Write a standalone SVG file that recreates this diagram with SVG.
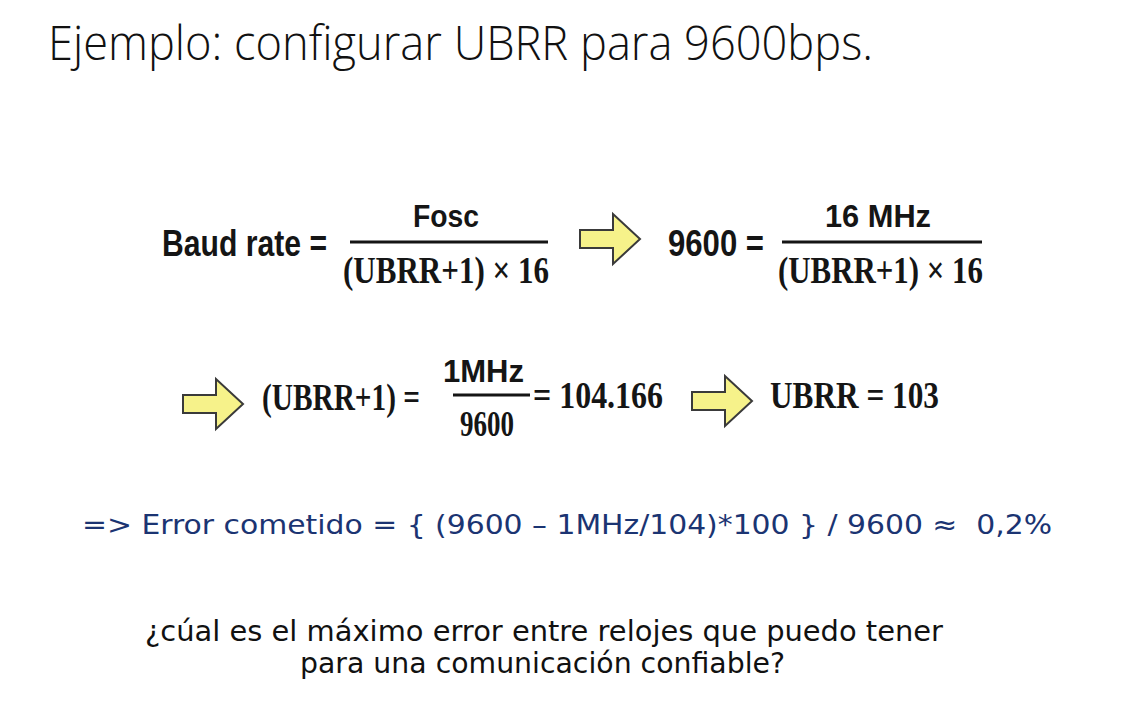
<svg xmlns="http://www.w3.org/2000/svg" width="1137" height="702" viewBox="0 0 1137 702">
<style>
.title{font-family:"Open Sans","Noto Sans","Liberation Sans",sans-serif;font-size:47px;font-weight:300;fill:#111}
.sb{font-family:"Liberation Sans",Arial,sans-serif;font-weight:bold;fill:#151515}
.tb{font-family:"Liberation Serif","Times New Roman",serif;font-weight:bold;fill:#151515}
.blue{font-family:"DejaVu Sans",Verdana,sans-serif;font-size:27px;fill:#1b3472;white-space:pre}
.q{font-family:"DejaVu Sans",Tahoma,sans-serif;font-size:28px;fill:#111}
.frac{stroke:#151515;stroke-width:3}
.arr{fill:#f6f28a;stroke:#3a3a3a;stroke-width:2;stroke-linejoin:miter}
</style>
<defs>
<path id="arrow" d="M0,-9 H33 V-25 L60,0 L33,25 V9 H0 Z"/>
</defs>
<rect width="1137" height="702" fill="#ffffff"/>
<text class="title" x="48" y="60" textLength="825" lengthAdjust="spacingAndGlyphs">Ejemplo: configurar UBRR para 9600bps.</text>

<g id="connectors">
<use href="#arrow" class="arr" transform="translate(580,239)"/>
<use href="#arrow" class="arr" transform="translate(183,404)"/>
<use href="#arrow" class="arr" transform="translate(692,401)"/>
</g>

<g id="eq1">
<text class="sb" x="162" y="256" font-size="36" textLength="165" lengthAdjust="spacingAndGlyphs">Baud rate =</text>
<text class="sb" x="413" y="227" font-size="32" textLength="66" lengthAdjust="spacingAndGlyphs">Fosc</text>
<line class="frac" x1="350" y1="242" x2="548" y2="242"/>
<text class="tb" x="343" y="283" font-size="38" textLength="206" lengthAdjust="spacingAndGlyphs">(UBRR+1) × 16</text>
</g>

<g id="eq2">
<text class="sb" x="668" y="256" font-size="36" textLength="96" lengthAdjust="spacingAndGlyphs">9600 =</text>
<text class="sb" x="825" y="227" font-size="32" textLength="106" lengthAdjust="spacingAndGlyphs">16 MHz</text>
<line class="frac" x1="782" y1="242" x2="982" y2="242"/>
<text class="tb" x="778" y="283" font-size="38" textLength="205" lengthAdjust="spacingAndGlyphs">(UBRR+1) × 16</text>
</g>

<g id="eq3">
<text class="tb" x="262" y="410" font-size="38" textLength="158" lengthAdjust="spacingAndGlyphs">(UBRR+1) =</text>
<text class="sb" x="443" y="382" font-size="32" textLength="81" lengthAdjust="spacingAndGlyphs">1MHz</text>
<line class="frac" x1="453" y1="395" x2="530" y2="395"/>
<text class="tb" x="460" y="436" font-size="36" textLength="54" lengthAdjust="spacingAndGlyphs">9600</text>
<text class="tb" x="533" y="408" font-size="38" textLength="130" lengthAdjust="spacingAndGlyphs">= 104.166</text>
</g>

<g id="eq4">
<text class="tb" x="770" y="408" font-size="38" textLength="169" lengthAdjust="spacingAndGlyphs">UBRR = 103</text>
</g>

<g id="error">
<text class="blue" x="82" y="534" textLength="970" lengthAdjust="spacingAndGlyphs">=&gt; Error cometido = { (9600 – 1MHz/104)*100 } / 9600 ≈  0,2%</text>
</g>

<g id="question">
<text class="q" x="145" y="641" textLength="798" lengthAdjust="spacingAndGlyphs">¿cúal es el máximo error entre relojes que puedo tener</text>
<text class="q" x="300" y="673" textLength="485" lengthAdjust="spacingAndGlyphs">para una comunicación confiable?</text>
</g>
</svg>
